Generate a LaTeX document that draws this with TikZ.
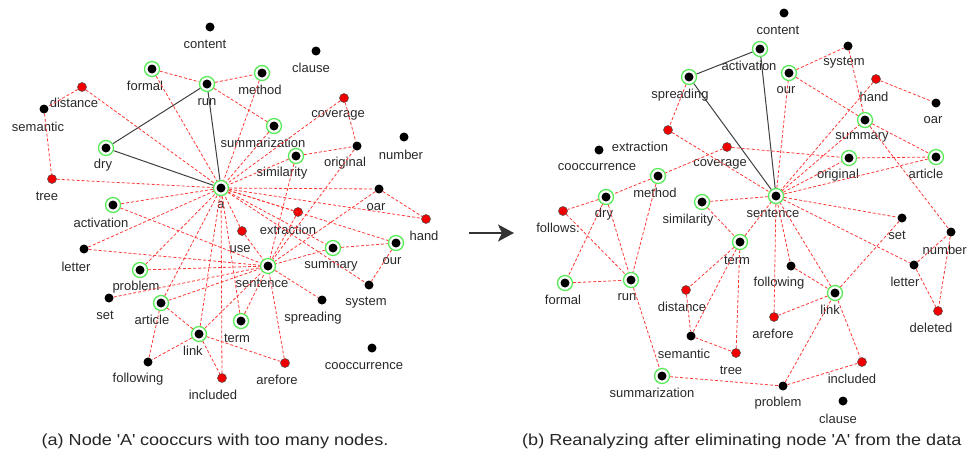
\documentclass[tikz,border=0pt]{standalone}
\usepackage{fontspec}
\setmainfont{Liberation Sans}
\newfontfamily\capfont{Liberation Sans}[FakeStretch=1.13]
\usetikzlibrary{arrows.meta}
\definecolor{edgered}{RGB}{255,55,55}
\definecolor{ringgreen}{RGB}{90,235,90}
\definecolor{dotred}{RGB}{240,0,0}
\definecolor{labgray}{RGB}{40,40,40}
\begin{document}
\begin{tikzpicture}[x=1pt,y=-1pt,
 bdot/.style={circle,fill=black,inner sep=0pt,minimum size=9pt},
 rdot/.style={circle,fill=dotred,draw=black!70,line width=0.5pt,inner sep=0pt,minimum size=9pt},
 gdot/.style={circle,draw=ringgreen,line width=1.3pt,fill=white,inner sep=0pt,minimum size=15pt,
   path picture={\fill[black] (path picture bounding box.center) circle (4.5pt);}},
 lab/.style={font=\fontsize{13}{13}\selectfont,text=labgray,inner sep=0pt},
 rl/.style={draw=edgered,line width=0.8pt,dash pattern=on 3pt off 2pt},
 bl/.style={draw=black!75,line width=1pt},
 captext/.style={font=\capfont\fontsize{16}{16}\selectfont,text=black!85,inner sep=0pt}
]
\useasboundingbox (0,0) rectangle (969,459);

% ---------------- left graph nodes ----------------
\node[bdot] (A-content) at (210,27) {};
\node[gdot] (A-formal) at (152,69) {};
\node[gdot] (A-run) at (207,84) {};
\node[rdot] (A-distance) at (82,87) {};
\node[bdot] (A-semantic) at (44,109) {};
\node[gdot] (A-dry) at (106,148) {};
\node[rdot] (A-tree) at (52,179) {};
\node[gdot] (A-a) at (221,188) {};
\node[bdot] (A-clause) at (316,51) {};
\node[gdot] (A-method) at (262,73) {};
\node[rdot] (A-coverage) at (344,98) {};
\node[gdot] (A-summarization) at (274,126) {};
\node[gdot] (A-similarity) at (296,156) {};
\node[bdot] (A-original) at (357,146) {};
\node[bdot] (A-number) at (404,137) {};
\node[bdot] (A-oar) at (379,189) {};
\node[gdot] (A-activation) at (113,205) {};
\node[bdot] (A-letter) at (84,249) {};
\node[gdot] (A-problem) at (140,270) {};
\node[bdot] (A-set) at (109,298) {};
\node[gdot] (A-article) at (161,303) {};
\node[gdot] (A-link) at (199,334) {};
\node[bdot] (A-following) at (148,362) {};
\node[rdot] (A-included) at (222,378) {};
\node[rdot] (A-hand) at (426,219) {};
\node[rdot] (A-extraction) at (298,212) {};
\node[rdot] (A-use) at (242,231) {};
\node[gdot] (A-summary) at (333,248) {};
\node[gdot] (A-our) at (396,243) {};
\node[gdot] (A-sentence) at (268,266) {};
\node[bdot] (A-system) at (369,285) {};
\node[bdot] (A-spreading) at (322,300) {};
\node[gdot] (A-term) at (241,321) {};
\node[rdot] (A-arefore) at (285,363) {};
\node[bdot] (A-cooccurrence) at (372,348) {};

% left labels
\node[lab] (lA-content) at (205,44) {content};
\node[lab] (lA-formal) at (145,86) {formal};
\node[lab] (lA-run) at (207,102) {run};
\node[lab] (lA-distance) at (74,103) {distance};
\node[lab] (lA-semantic) at (38,127) {semantic};
\node[lab] (lA-dry) at (103,165) {dry};
\node[lab] (lA-tree) at (47,196) {tree};
\node[lab] (lA-a) at (221,205) {a};
\node[lab] (lA-clause) at (311,68) {clause};
\node[lab] (lA-method) at (260,90) {method};
\node[lab] (lA-coverage) at (338,115) {coverage};
\node[lab] (lA-summarization) at (263,143) {summarization};
\node[lab] (lA-similarity) at (282,173) {similarity};
\node[lab] (lA-original) at (345,163) {original};
\node[lab] (lA-number) at (401,155) {number};
\node[lab] (lA-oar) at (376,207) {oar};
\node[lab] (lA-activation) at (101,223) {activation};
\node[lab] (lA-letter) at (76,267) {letter};
\node[lab] (lA-problem) at (136,287) {problem};
\node[lab] (lA-set) at (105,315) {set};
\node[lab] (lA-article) at (152,320) {article};
\node[lab] (lA-link) at (193,351) {link};
\node[lab] (lA-following) at (138,379) {following};
\node[lab] (lA-included) at (213,395) {included};
\node[lab] (lA-hand) at (424,236) {hand};
\node[lab] (lA-extraction) at (288,230) {extraction};
\node[lab] (lA-use) at (240,249) {use};
\node[lab] (lA-summary) at (331,266) {summary};
\node[lab] (lA-our) at (392,261) {our};
\node[lab] (lA-sentence) at (262,283) {sentence};
\node[lab] (lA-system) at (366,303) {system};
\node[lab] (lA-spreading) at (313,318) {spreading};
\node[lab] (lA-term) at (237,338) {term};
\node[lab] (lA-arefore) at (277,380) {arefore};
\node[lab] (lA-cooccurrence) at (364,366) {cooccurrence};

% left edges
\foreach \u/\v in {dry/run,dry/a,run/a}
  \draw[bl] (A-\u) -- (A-\v);
\foreach \u/\v in {formal/run,formal/a,run/method,run/summarization,distance/semantic,distance/a,
  semantic/tree,tree/a,method/a,summarization/a,coverage/a,coverage/original,similarity/original,
  similarity/sentence,similarity/a,original/sentence,a/oar,oar/hand,oar/sentence,a/hand,a/our,summary/our,
  a/system,our/system,summary/sentence,a/summary,extraction/a,extraction/sentence,use/a,use/sentence,
  sentence/spreading,term/sentence,term/a,arefore/sentence,arefore/link,link/a,link/article,
  link/following,link/included,link/sentence,included/a,following/article,set/sentence,letter/a,
  letter/sentence,activation/a,activation/sentence,problem/a,problem/sentence,article/a,article/sentence}
  \draw[rl] (A-\u) -- (A-\v);

% ---------------- right graph nodes ----------------
\node[gdot] (B-spreading) at (689,77) {};
\node[rdot] (B-extraction) at (668,130) {};
\node[bdot] (B-cooccurrence) at (599,150) {};
\node[rdot] (B-coverage) at (727,147) {};
\node[gdot] (B-method) at (658,176) {};
\node[gdot] (B-dry) at (606,197) {};
\node[gdot] (B-similarity) at (702,202) {};
\node[rdot] (B-follows) at (563,211) {};
\node[bdot] (B-content) at (784,13) {};
\node[gdot] (B-activation) at (760,49) {};
\node[bdot] (B-system) at (848,46) {};
\node[gdot] (B-our) at (789,73) {};
\node[rdot] (B-hand) at (876,79) {};
\node[bdot] (B-oar) at (936,103) {};
\node[gdot] (B-summary) at (865,120) {};
\node[gdot] (B-original) at (849,158) {};
\node[gdot] (B-article) at (936,157) {};
\node[gdot] (B-sentence) at (776,196) {};
\node[bdot] (B-set) at (902,218) {};
\node[gdot] (B-term) at (740,242) {};
\node[gdot] (B-formal) at (565,283) {};
\node[gdot] (B-run) at (631,280) {};
\node[rdot] (B-distance) at (686,290) {};
\node[bdot] (B-semantic) at (691,336) {};
\node[rdot] (B-tree) at (736,353) {};
\node[gdot] (B-summarization) at (662,376) {};
\node[bdot] (B-following) at (791,266) {};
\node[gdot] (B-link) at (835,293) {};
\node[rdot] (B-arefore) at (774,317) {};
\node[bdot] (B-number) at (951,232) {};
\node[bdot] (B-letter) at (914,265) {};
\node[rdot] (B-deleted) at (938,311) {};
\node[rdot] (B-included) at (862,362) {};
\node[bdot] (B-problem) at (783,386) {};
\node[bdot] (B-clause) at (843,401) {};

% right labels
\node[lab] (lB-spreading) at (680,95) {spreading};
\node[lab] (lB-extraction) at (640,147) {extraction};
\node[lab] (lB-cooccurrence) at (597,167) {cooccurrence};
\node[lab] (lB-coverage) at (720,164) {coverage};
\node[lab] (lB-method) at (655,193) {method};
\node[lab] (lB-dry) at (604,214) {dry};
\node[lab] (lB-similarity) at (688,220) {similarity};
\node[lab] (lB-follows) at (558,228) {follows:};
\node[lab] (lB-content) at (778,30) {content};
\node[lab] (lB-activation) at (749,66) {activation};
\node[lab] (lB-system) at (844,63) {system};
\node[lab] (lB-our) at (786,90) {our};
\node[lab] (lB-hand) at (874,97) {hand};
\node[lab] (lB-oar) at (933,120) {oar};
\node[lab] (lB-summary) at (862,137) {summary};
\node[lab] (lB-original) at (838,175) {original};
\node[lab] (lB-article) at (926,174) {article};
\node[lab] (lB-sentence) at (773,213) {sentence};
\node[lab] (lB-set) at (897,235) {set};
\node[lab] (lB-term) at (737,260) {term};
\node[lab] (lB-formal) at (563,300) {formal};
\node[lab] (lB-run) at (627,297) {run};
\node[lab] (lB-distance) at (682,307) {distance};
\node[lab] (lB-semantic) at (684,354) {semantic};
\node[lab] (lB-tree) at (731,370) {tree};
\node[lab] (lB-summarization) at (652,393) {summarization};
\node[lab] (lB-following) at (779,283) {following};
\node[lab] (lB-link) at (830,310) {link};
\node[lab] (lB-arefore) at (773,334) {arefore};
\node[lab,anchor=east] (lB-number) at (967,250) {number};
\node[lab] (lB-letter) at (905,282) {letter};
\node[lab] (lB-deleted) at (931,328) {deleted};
\node[lab] (lB-included) at (852,379) {included};
\node[lab] (lB-problem) at (778,403) {problem};
\node[lab] (lB-clause) at (838,419) {clause};

% right edges
\foreach \u/\v in {spreading/activation,spreading/sentence,activation/sentence}
  \draw[bl] (B-\u) -- (B-\v);
\foreach \u/\v in {spreading/extraction,extraction/sentence,coverage/method,coverage/original,
  method/dry,method/run,dry/follows,dry/formal,dry/run,follows/run,formal/run,run/summarization,
  similarity/sentence,similarity/term,term/distance,term/semantic,term/tree,term/sentence,
  distance/semantic,semantic/tree,summarization/problem,problem/link,problem/included,link/included,
  link/arefore,arefore/sentence,following/sentence,following/link,link/sentence,link/set,sentence/set,
  sentence/letter,letter/number,letter/deleted,number/deleted,summary/number,hand/sentence,
  sentence/original,sentence/article,sentence/our,sentence/summary,our/system,our/summary,
  system/summary,hand/oar,summary/article,original/article}
  \draw[rl] (B-\u) -- (B-\v);

% arrow between the panels
\coordinate (arrS) at (469,233);
\coordinate (arrE) at (514,233);
\draw[-{Stealth[length=16pt,width=17pt,inset=4pt]},line width=2pt,black!80] (arrS) -- (arrE);

% captions
\node[captext] (capA) at (215,441) {(a) Node \textquotesingle A\textquotesingle\ cooccurs with too many nodes.};
\node[captext,anchor=west] (capB) at (522,441) {(b) Reanalyzing after eliminating node \textquotesingle A\textquotesingle\ from the data};
\end{tikzpicture}
\end{document}
